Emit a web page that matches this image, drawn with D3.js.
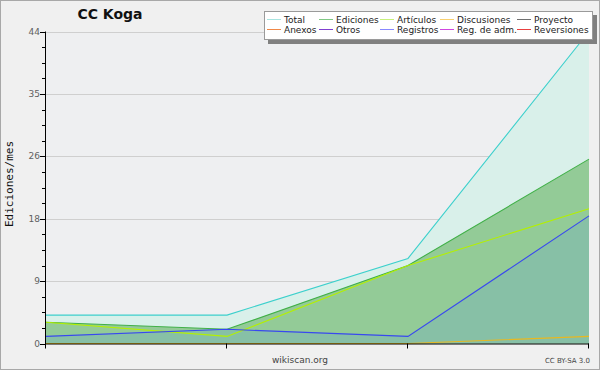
<!DOCTYPE html>
<html>
<head>
<meta charset="utf-8">
<script src="https://cdn.jsdelivr.net/npm/d3@7"></script>
<style>
  html, body { margin: 0; padding: 0; background: #f0f0f0; }
  svg { display: block; }
  text { font-family: "DejaVu Sans", sans-serif; }
</style>
</head>
<body>
<svg id="chart" width="600" height="370"></svg>
<script>
// months (no labels on the x axis)
var months = [0, 1, 2, 3];
// edits per month, per namespace
var total = [4, 4, 12, 44];
var ediciones = [3, 2, 11, 26];
var articulos = [3, 1, 11, 19];
var registros = [1, 2, 1, 18];
var discusiones = [0, 0, 0, 1];

var legendNames = [
  ["Total", "Ediciones", "Artículos", "Discusiones", "Proyecto"],
  ["Anexos", "Otros", "Registros", "Reg. de adm.", "Reversiones"]
];
var legendColors = [
  ["#a8e4e0", "#80c884", "#c8f07c", "#f8d070", "#707070"],
  ["#f08848", "#8040d0", "#8888ff", "#d048e0", "#e84040"]
];

var svg = d3.select("#chart");
var plotLeft = 46, plotRight = 589, plotTop = 31.5, plotBottom = 343.5;

var x = d3.scalePoint().domain(months).range([plotLeft, plotRight]);
var y = d3.scaleLinear().domain([0, 44]).range([plotBottom, plotTop]);

// frame
svg.append("rect").attr("x", 0.5).attr("y", 0.5).attr("width", 599).attr("height", 369)
  .attr("fill", "#f0f0f0").attr("stroke", "#a8a8a8");
svg.append("rect").attr("x", plotLeft).attr("y", plotTop).attr("width", plotRight - plotLeft).attr("height", plotBottom - plotTop)
  .attr("fill", "#eeeff1");

// grid
var majors = d3.range(0, 6).map(function(i) { return i * 8.8; });
svg.append("g").selectAll("line").data(majors.slice(1)).enter().append("line")
  .attr("x1", plotLeft).attr("x2", plotRight)
  .attr("y1", function(d) { return Math.round(y(d)) + 0.5; })
  .attr("y2", function(d) { return Math.round(y(d)) + 0.5; })
  .attr("stroke", "#cfcfcf");

// areas
function area(vals) {
  return d3.area()
    .x(function(d, i) { return x(months[i]); })
    .y0(y(0))
    .y1(function(d) { return y(d); })(vals);
}
function line(vals) {
  return d3.line()
    .x(function(d, i) { return x(months[i]); })
    .y(function(d) { return y(d); })(vals);
}
svg.append("path").attr("d", area(total)).attr("fill", "#d9f0ea");
svg.append("path").attr("d", area(ediciones)).attr("fill", "#93cb97");
svg.append("path").attr("d", area(registros)).attr("fill", "#87c0a6");

var series = [
  { v: total, c: "#3cd0cc" },
  { v: ediciones, c: "#40b048" },
  { v: discusiones, c: "#e8b820" },
  { v: articulos, c: "#b4f000" },
  { v: registros, c: "#3848f0" }
];
svg.append("g").selectAll("path").data(series).enter().append("path")
  .attr("d", function(d) { return line(d.v); })
  .attr("fill", "none")
  .attr("stroke", function(d) { return d.c; })
  .attr("stroke-width", 1.1);

// axes
svg.append("line").attr("x1", plotLeft - 0.5).attr("x2", plotLeft - 0.5).attr("y1", plotTop).attr("y2", plotBottom + 0.5)
  .attr("stroke", "#000");
svg.append("line").attr("x1", plotLeft - 0.5).attr("x2", plotRight).attr("y1", plotBottom + 0.5).attr("y2", plotBottom + 0.5)
  .attr("stroke", "#000");

var minors = d3.range(0, 21).map(function(i) { return i * 2.2; }).filter(function(d, i) { return i % 4 != 0; });
svg.append("g").selectAll("line").data(minors).enter().append("line")
  .attr("x1", plotLeft - 4).attr("x2", plotLeft)
  .attr("y1", function(d) { return Math.round(y(d)) + 0.5; })
  .attr("y2", function(d) { return Math.round(y(d)) + 0.5; })
  .attr("stroke", "#000");
svg.append("g").selectAll("line").data(majors).enter().append("line")
  .attr("x1", plotLeft - 6).attr("x2", plotLeft)
  .attr("y1", function(d) { return Math.round(y(d)) + 0.5; })
  .attr("y2", function(d) { return Math.round(y(d)) + 0.5; })
  .attr("stroke", "#000");
svg.append("g").selectAll("text").data(majors).enter().append("text")
  .attr("x", plotLeft - 6).attr("y", function(d) { return y(d) + 3; })
  .attr("text-anchor", "end").attr("font-size", 9).attr("fill", "#606060")
  .text(function(d) { return Math.round(d); });

svg.append("g").selectAll("line").data(months).enter().append("line")
  .attr("x1", function(d) { return Math.round(x(d)) - 0.5; })
  .attr("x2", function(d) { return Math.round(x(d)) - 0.5; })
  .attr("y1", plotBottom).attr("y2", plotBottom + 5)
  .attr("stroke", "#000");

// titles
svg.append("text").attr("x", 110).attr("y", 19).attr("text-anchor", "middle")
  .attr("font-size", 14).attr("font-weight", "bold").attr("fill", "#111")
  .text("CC Koga");
svg.append("text").attr("transform", "translate(13,184) rotate(-90)")
  .attr("text-anchor", "middle").attr("font-size", 11)
  .style("font-family", "'DejaVu Sans Mono', monospace").attr("fill", "#111")
  .text("Ediciones/mes");
svg.append("text").attr("x", 300).attr("y", 363).attr("text-anchor", "middle")
  .attr("font-size", 9).attr("fill", "#444").text("wikiscan.org");
svg.append("text").attr("x", 590).attr("y", 363).attr("text-anchor", "end")
  .attr("font-size", 7).attr("fill", "#444").text("CC BY-SA 3.0");

// legend
var lg = svg.append("g");
lg.append("rect").attr("x", 268).attr("y", 15).attr("width", 329).attr("height", 29).attr("fill", "#808080");
lg.append("rect").attr("x", 264.5).attr("y", 11.5).attr("width", 328).attr("height", 28)
  .attr("fill", "#fff").attr("stroke", "#9a9a9a");
var colX = [267, 319, 380, 440, 517];
legendNames.forEach(function(row, r) {
  row.forEach(function(name, c) {
    var yy = 19.5 + r * 10;
    lg.append("line").attr("x1", colX[c]).attr("x2", colX[c] + 14)
      .attr("y1", yy).attr("y2", yy).attr("stroke", legendColors[r][c]);
    lg.append("text").attr("x", colX[c] + 17).attr("y", yy + 3.5)
      .attr("font-size", 9).attr("fill", "#222")
      .text(name);
  });
});
</script>
</body>
</html>
